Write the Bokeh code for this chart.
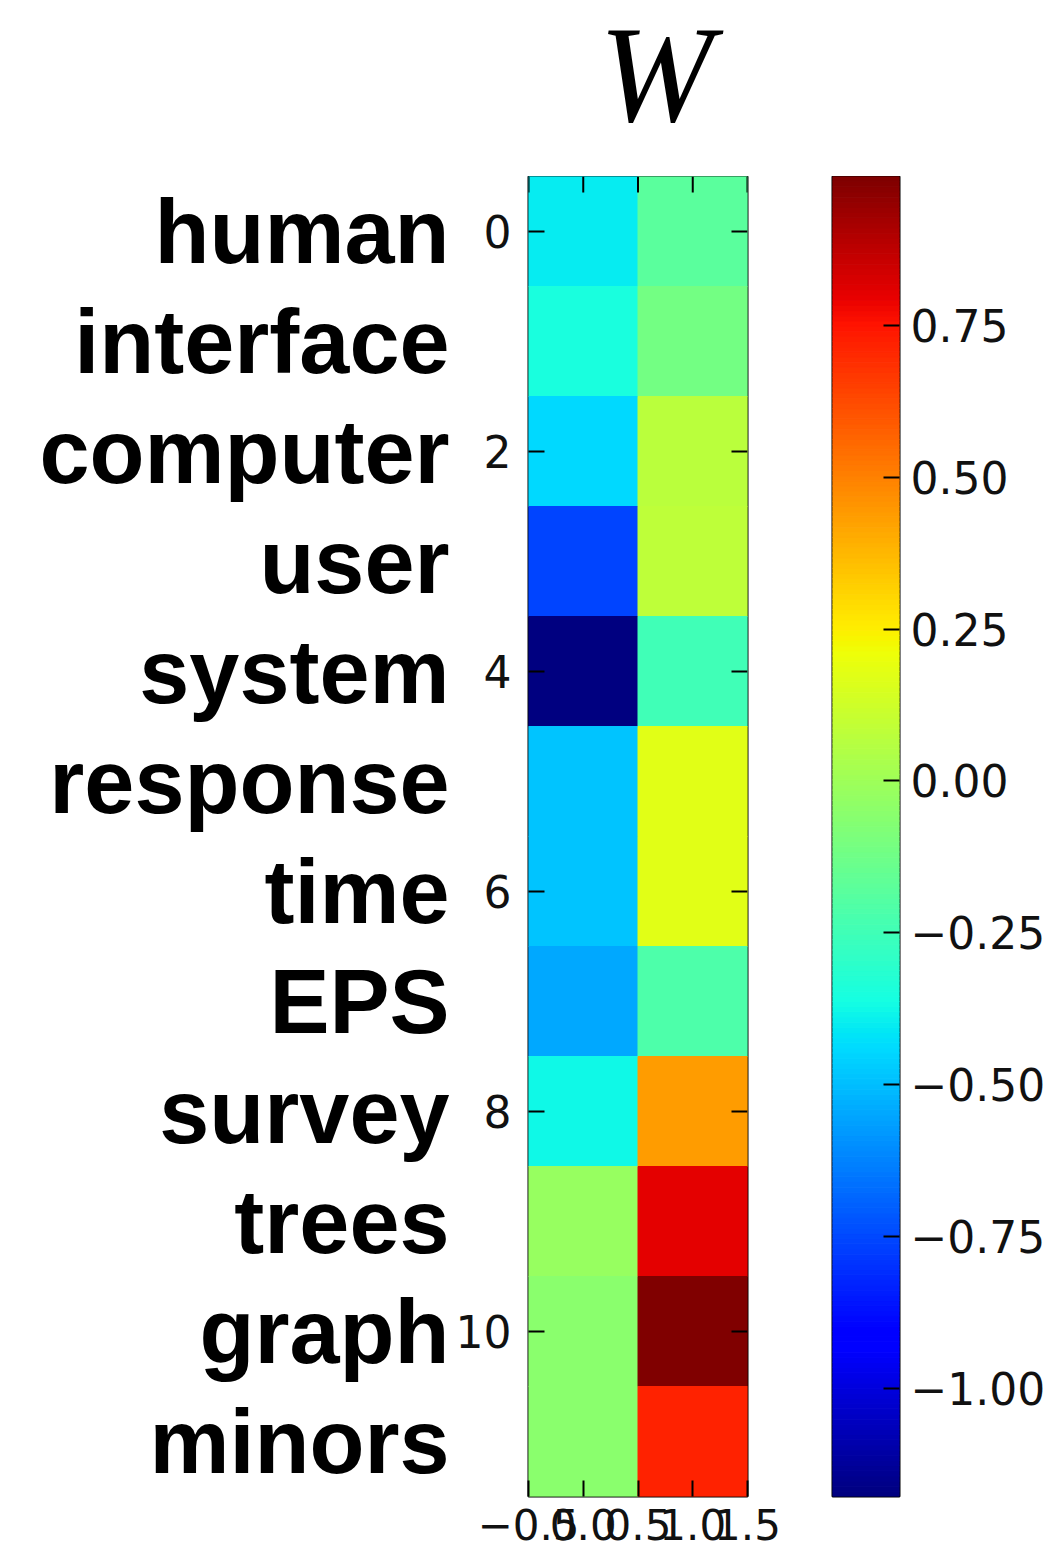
import numpy as np
from bokeh.plotting import figure
from bokeh.layouts import row, column
from bokeh.core.properties import value
from bokeh.models import (ColumnDataSource, LinearColorMapper, LinearAxis, FixedTicker, Range1d)
from bokeh.transform import transform
from bokeh.embed import file_html
from bokeh.resources import INLINE

# term loadings on the two topics (rows = terms, columns = topics)
terms = ["human", "interface", "computer", "user", "system", "response",
         "time", "EPS", "survey", "trees", "graph", "minors"]
topic_0 = [-0.40, -0.35, -0.44, -0.754, -1.178, -0.49, -0.49, -0.544, -0.374, -0.02, -0.052, -0.052]
topic_1 = [-0.181, -0.113, 0.074, 0.08, -0.248, 0.174, 0.174, -0.215, 0.441, 0.80, 0.995, 0.721]

title_text = "W"
x_ticks = [-0.5, 0.0, 0.5, 1.0, 1.5]
x_tick_labels = ["\u22120.5", "0.0", "0.5", "1.0", "1.5"]
y_ticks = [0, 2, 4, 6, 8, 10]
cbar_ticks = [-1.0, -0.75, -0.5, -0.25, 0.0, 0.25, 0.5, 0.75]
cbar_tick_labels = ["\u22121.00", "\u22120.75", "\u22120.50", "\u22120.25",
                    "0.00", "0.25", "0.50", "0.75"]


def jet(n=256):
    t = np.linspace(0, 1, n)
    r = np.interp(t, [0, 0.35, 0.66, 0.89, 1], [0, 0, 1, 1, 0.5])
    g = np.interp(t, [0, 0.125, 0.375, 0.64, 0.91, 1], [0, 0, 1, 1, 0, 0])
    b = np.interp(t, [0, 0.11, 0.34, 0.65, 1], [0.5, 1, 1, 0, 0])
    return ["#%02x%02x%02x" % tuple(int(round(c * 255)) for c in rgb) for rgb in zip(r, g, b)]


palette = jet()
values = topic_0 + topic_1
vmin, vmax = min(values), max(values)
mapper = LinearColorMapper(palette=palette, low=vmin, high=vmax)

n = len(terms)
src = ColumnDataSource(dict(
    col=[0] * n + [1] * n,
    row=list(range(n)) * 2,
    w=values,
))

TICK_FONT = "DejaVu Sans"
TICK_SIZE = "44px"
TICK_LEN = 16  # inward tick length, px

PAGE_W = 1055
TITLE_H = 176
BODY_H = 1553 - TITLE_H
LEFT_W, FRAME_W, GAP_W = 528, 219, 43
FRAME_H = 1320
BOTTOM_H = BODY_H - FRAME_H


def style_axis(ax, standoff=10, size=TICK_SIZE):
    ax.axis_line_color = None
    ax.major_tick_in = TICK_LEN
    ax.major_tick_out = 0
    ax.minor_tick_in = 0
    ax.minor_tick_out = 0
    ax.major_tick_line_color = "black"
    ax.major_tick_line_width = 2
    ax.major_label_standoff = standoff
    ax.major_label_text_font = TICK_FONT
    ax.major_label_text_color = "#111111"
    ax.major_label_text_font_size = size


def plain(fig):
    fig.grid.visible = False
    fig.background_fill_color = "white"
    fig.border_fill_color = "white"


# ---- heatmap -------------------------------------------------------------
p = figure(width=LEFT_W + FRAME_W + GAP_W, height=BODY_H,
           x_range=Range1d(-0.5, 1.5), y_range=Range1d(n - 0.5, -0.5),
           output_backend="svg", toolbar_location=None,
           min_border_left=LEFT_W, min_border_right=GAP_W,
           min_border_top=0, min_border_bottom=BOTTOM_H,
           x_axis_location="below", y_axis_location="left")
plain(p)
p.outline_line_color = "black"
p.outline_line_width = 2
p.outline_line_alpha = 1.0

p.rect(x="col", y="row", width=1, height=1, source=src,
       fill_color=transform("w", mapper), line_color=transform("w", mapper), line_width=1)

bottom = p.xaxis[0]
bottom.ticker = FixedTicker(ticks=x_ticks)
bottom.major_label_overrides = dict(zip(x_ticks, x_tick_labels))
style_axis(bottom, standoff=12, size="42px")

left = p.yaxis[0]
left.ticker = FixedTicker(ticks=y_ticks)
style_axis(left, standoff=17)

# term names as a second, outer axis on the left
term_axis = LinearAxis(ticker=FixedTicker(ticks=list(range(n))),
                       major_label_overrides={i: t for i, t in enumerate(terms)})
term_axis.axis_line_color = None
term_axis.major_tick_line_color = None
term_axis.major_tick_in = 0
term_axis.major_tick_out = 0
term_axis.minor_tick_in = 0
term_axis.minor_tick_out = 0
term_axis.major_label_standoff = 3
term_axis.major_label_text_font = "Liberation Sans"
term_axis.major_label_text_font_style = "bold"
term_axis.major_label_text_font_size = "90px"
term_axis.major_label_text_color = "black"
p.add_layout(term_axis, "left")

# mirrored inward ticks on the top and right edges of the frame
x0, x1 = p.x_range.start, p.x_range.end
y_top = p.y_range.end
tick_dx = TICK_LEN * (x1 - x0) / FRAME_W
tick_dy = TICK_LEN * (p.y_range.start - p.y_range.end) / FRAME_H
p.segment(x0=x_ticks, y0=[y_top] * len(x_ticks),
          x1=x_ticks, y1=[y_top + tick_dy] * len(x_ticks),
          line_color="black", line_width=2)
p.segment(x0=[x1] * len(y_ticks), y0=y_ticks,
          x1=[x1 - tick_dx] * len(y_ticks), y1=y_ticks,
          line_color="black", line_width=2)

# ---- title strip above the heatmap ----------------------------------------
# y runs downward in pixels from the top of the strip
head = figure(width=PAGE_W, height=TITLE_H,
              x_range=Range1d(x0, x1), y_range=Range1d(TITLE_H, 0),
              output_backend="svg", toolbar_location=None,
              min_border_left=LEFT_W, min_border_right=PAGE_W - LEFT_W - FRAME_W,
              min_border_top=0, min_border_bottom=0,
              x_axis_location=None, y_axis_location=None)
plain(head)
head.outline_line_color = None
head.title.visible = False
head.text(x=[(x0 + x1) / 2], y=[74], text=[title_text], x_offset=18,
          text_align="center", text_baseline="middle",
          text_font=value("Liberation Serif"), text_font_style="italic",
          text_font_size=value("137px"), text_color="black")

# ---- colour bar ------------------------------------------------------------
cb = figure(width=PAGE_W - (LEFT_W + FRAME_W + GAP_W), height=BODY_H,
            x_range=Range1d(0, 1), y_range=Range1d(vmin, vmax),
            output_backend="svg", toolbar_location=None,
            min_border_left=42, min_border_right=156,
            min_border_top=0, min_border_bottom=BOTTOM_H,
            x_axis_location=None, y_axis_location="right")
plain(cb)
cb.outline_line_color = "black"
cb.outline_line_width = 2
cb.outline_line_alpha = 1.0

edges = np.linspace(vmin, vmax, len(palette) + 1)
cb.quad(left=0, right=1, bottom=edges[:-1], top=edges[1:],
        fill_color=palette, line_color=palette, line_width=1)

cax = cb.yaxis[0]
cax.ticker = FixedTicker(ticks=cbar_ticks)
cax.major_label_overrides = dict(zip(cbar_ticks, cbar_tick_labels))
style_axis(cax, standoff=11)

layout = column(head, row(p, cb))
open("out.html", "w").write(file_html(layout, INLINE))
